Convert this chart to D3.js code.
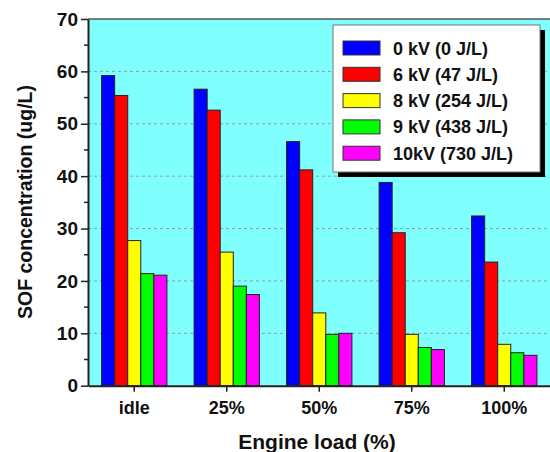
<!DOCTYPE html>
<html>
<head>
<meta charset="utf-8">
<script src="https://cdn.jsdelivr.net/npm/d3@7"></script>
<style>
  body { margin: 0; background: #fff; }
  svg text { font-family: "Liberation Sans", Arial, sans-serif; font-weight: bold; fill: #111; }
</style>
</head>
<body>
<div id="chart"></div>
<script>
// data
let loads = ['idle', '25%', '50%', '75%', '100%'];
let seriesNames = ['0 kV (0 J/L)', '6 kV (47 J/L)', '8 kV (254 J/L)', '9 kV (438 J/L)', '10kV (730 J/L)'];
let seriesColors = ['#0000ff', '#ff0000', '#ffff00', '#00ff00', '#ff00ff'];
let kv0 = [59.2, 56.6, 46.6, 38.8, 32.4];
let kv6 = [55.4, 52.6, 41.2, 29.2, 23.6];
let kv8 = [27.7, 25.5, 13.9, 9.8, 7.9];
let kv9 = [21.4, 19.0, 9.8, 7.3, 6.3];
let kv10 = [21.1, 17.4, 10.0, 6.9, 5.8];
let yTicks = [0, 10, 20, 30, 40, 50, 60, 70];

let allSeries = [kv0, kv6, kv8, kv9, kv10];

let width = 550, height = 452;
let plotLeft = 88, plotRight = 550.5, plotTop = 19, plotBottom = 385.7;

let svg = d3.select('#chart').append('svg')
    .attr('width', width)
    .attr('height', height);

let x = d3.scaleBand()
    .domain(loads)
    .range([plotLeft, plotRight])
    .paddingInner(0.294)
    .paddingOuter(0.147);

let xSub = d3.scaleBand()
    .domain(d3.range(seriesNames.length))
    .range([0, x.bandwidth()]);

let y = d3.scaleLinear()
    .domain([0, 70])
    .range([plotBottom, plotTop]);

// plot background
svg.append('rect')
    .attr('x', plotLeft)
    .attr('y', plotTop)
    .attr('width', plotRight - plotLeft)
    .attr('height', plotBottom - plotTop)
    .attr('fill', '#80ffff');

// top frame line
svg.append('line')
    .attr('x1', plotLeft).attr('x2', plotRight)
    .attr('y1', plotTop).attr('y2', plotTop)
    .attr('stroke', '#555').attr('stroke-width', 1.5);

// dashed grid
svg.append('g')
    .selectAll('line')
    .data(yTicks.filter(d => d > 0 && d < 70))
    .enter()
    .append('line')
    .attr('x1', plotLeft).attr('x2', plotRight)
    .attr('y1', d => y(d)).attr('y2', d => y(d))
    .attr('stroke', '#9a9a9a')
    .attr('stroke-width', 1)
    .attr('stroke-dasharray', '3,3');

// bars
let groups = svg.append('g')
    .selectAll('g')
    .data(allSeries)
    .enter()
    .append('g')
    .attr('fill', (d, i) => seriesColors[i]);

groups.each(function(vals, si) {
    d3.select(this).selectAll('rect')
        .data(vals)
        .enter()
        .append('rect')
        .attr('x', (d, i) => x(loads[i]) + xSub(si))
        .attr('y', d => y(d))
        .attr('width', xSub.bandwidth())
        .attr('height', d => y(0) - y(d))
        .attr('stroke', '#222')
        .attr('stroke-width', 1);
});

// y axis
let yAxis = svg.append('g')
    .attr('transform', `translate(${plotLeft},0)`)
    .call(d3.axisLeft(y).tickValues(yTicks).tickSize(7).tickPadding(3).tickSizeOuter(0));
yAxis.select('.domain').attr('stroke', '#222').attr('stroke-width', 2);
yAxis.selectAll('.tick line').attr('stroke', '#222').attr('stroke-width', 1.5);
yAxis.selectAll('.tick text').style('font-size', '19px').attr('font-family', null);

// minor ticks at 5s
svg.append('g')
    .selectAll('line')
    .data(d3.range(5, 70, 10))
    .enter()
    .append('line')
    .attr('x1', plotLeft - 4).attr('x2', plotLeft)
    .attr('y1', d => y(d)).attr('y2', d => y(d))
    .attr('stroke', '#222').attr('stroke-width', 1.5);

// x axis
let xAxis = svg.append('g')
    .attr('transform', `translate(0,${plotBottom})`)
    .call(d3.axisBottom(x).tickSize(6).tickPadding(10).tickSizeOuter(0));
xAxis.select('.domain').attr('stroke', '#222').attr('stroke-width', 2);
xAxis.selectAll('.tick line').attr('stroke', '#222').attr('stroke-width', 1.5);
xAxis.selectAll('.tick text').style('font-size', '18px').attr('font-family', null);

// axis titles
svg.append('text')
    .text('SOF concentration (ug/L)')
    .attr('text-anchor', 'middle')
    .attr('transform', 'translate(32,202) rotate(-90)')
    .style('font-size', '19.5px');

svg.append('text')
    .text('Engine load (%)')
    .attr('text-anchor', 'middle')
    .attr('x', 317)
    .attr('y', 449)
    .style('font-size', '21px');

// legend
let legX = 333, legY = 25, legW = 207, legH = 147;
svg.append('rect')
    .attr('x', legX + 5).attr('y', legY + 5)
    .attr('width', legW).attr('height', legH)
    .attr('fill', '#000');
svg.append('rect')
    .attr('x', legX).attr('y', legY)
    .attr('width', legW).attr('height', legH)
    .attr('fill', '#fff')
    .attr('stroke', '#777').attr('stroke-width', 1);

let leg = svg.append('g')
    .selectAll('g')
    .data(seriesNames)
    .enter()
    .append('g')
    .attr('transform', (d, i) => `translate(${legX},${legY + 23 + i * 26.3})`);

leg.append('rect')
    .attr('x', 10).attr('y', -7)
    .attr('width', 37).attr('height', 14)
    .attr('fill', (d, i) => seriesColors[i])
    .attr('stroke', '#333').attr('stroke-width', 1);

leg.append('text')
    .text(d => d)
    .attr('x', 60)
    .attr('y', 6.5)
    .style('font-size', '18px');
</script>
</body>
</html>
